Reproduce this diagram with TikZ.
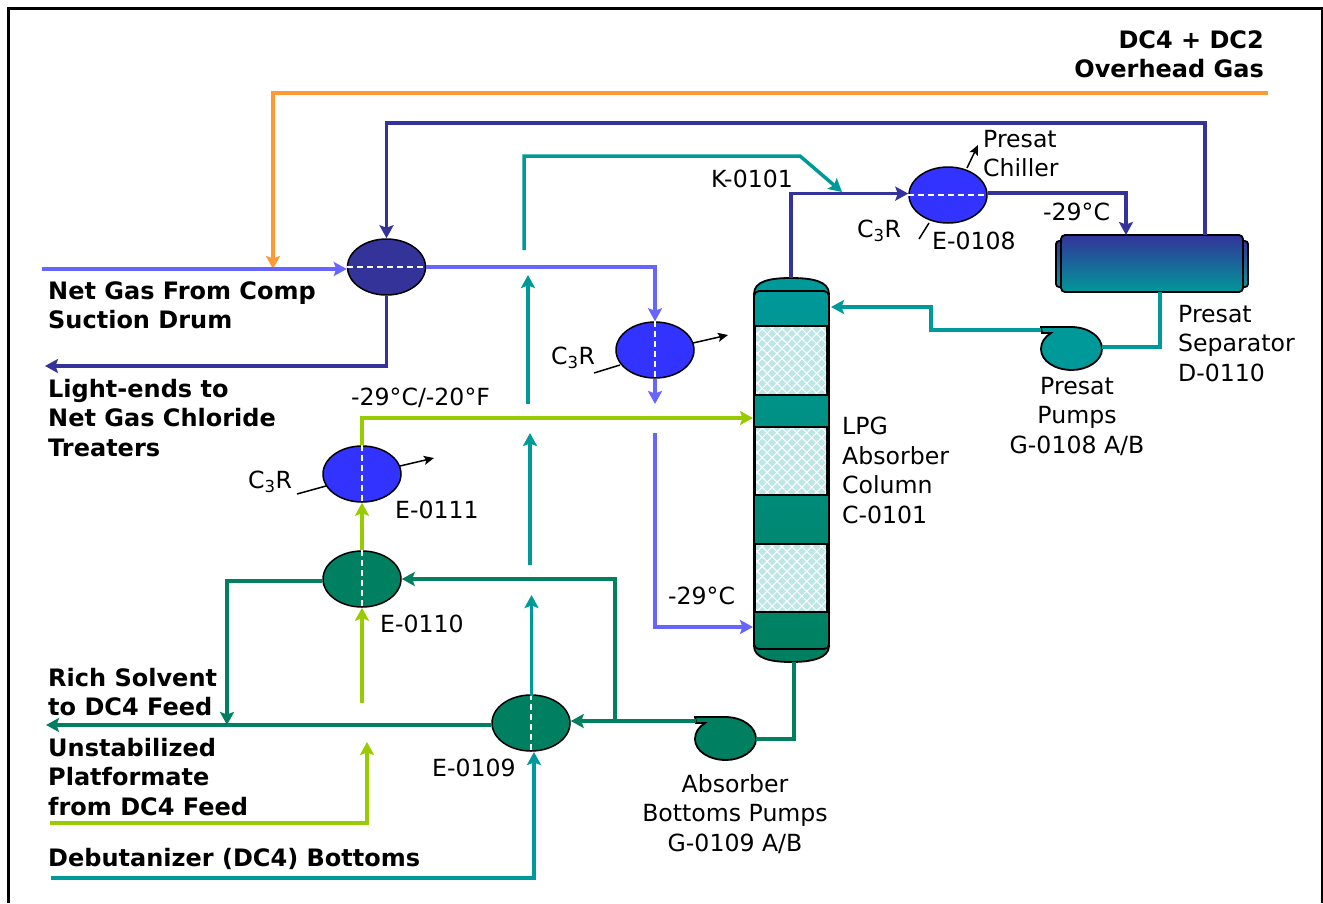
\documentclass[tikz,border=0pt]{standalone}
\usepackage{fontspec}
\setmainfont{DejaVu Sans}
\usetikzlibrary{arrows.meta}
\usetikzlibrary{patterns.meta}
\usetikzlibrary{shapes.geometric}
\definecolor{orangeline}{HTML}{FF9933}
\definecolor{navyline}{HTML}{333399}
\definecolor{lightblue}{HTML}{6666FF}
\definecolor{chillblue}{HTML}{3333FF}
\definecolor{tealline}{HTML}{009999}
\definecolor{limeline}{HTML}{99CC00}
\definecolor{greenline}{HTML}{008060}
\tikzset{
 pipe/.style={line width=3.5pt, line join=miter},
 feed/.style={pipe, -{Stealth[length=13pt,width=14pt,inset=2.5pt]}},
 vessel/.style={ellipse, draw=black, line width=1.5pt, minimum width=78pt, minimum height=56pt, inner sep=0},
 split/.style={white, line width=1.7pt, dash pattern=on 6pt off 4pt},
 refrig/.style={black, line width=1.5pt, -{Stealth[length=10pt,width=9pt,inset=2pt]}},
 stub/.style={black, line width=1.5pt},
 lbl/.style={inner sep=0, align=left, font=\fontsize{23.6}{29.5}\selectfont},
 bold/.style={lbl, font=\fontsize{24}{29.5}\selectfont\bfseries},
 packing/.style={draw=black, line width=1.5pt, fill=tealline!25},
 outline/.style={draw=black, line width=1.8pt},
}
\newcommand{\pumpshape}[3]{
 \filldraw[#3, outline, shift={(#1,#2)}] (0,0) -- (30,0) .. controls (48,0) and (61,10) .. (61,22) .. controls (61,34) and (46,43) .. (31,43) .. controls (14,43) and (0,34) .. (0,22) .. controls (0,15) and (4,10) .. (10,6) -- (1,6) -- cycle;
}
\begin{document}
\begin{tikzpicture}[x=1pt,y=-1pt]
\useasboundingbox (0,0) rectangle (1323,903);
\draw[black, line width=2.6pt] (8.7,903) -- (8.7,8.7) -- (1322,8.7) -- (1322,903);

% exchangers
\node[vessel, fill=navyline] (hxnet) at (386.5,267) {};
\node[vessel, fill=chillblue] (hxpresat) at (948,195) {};
\node[vessel, fill=chillblue] (hxmid) at (655,350) {};
\node[vessel, fill=chillblue] (hxeleven) at (362,474) {};
\node[vessel, fill=greenline] (hxten) at (362,579) {};
\node[vessel, fill=greenline] (hxnine) at (531,723) {};
\draw[split] (hxnet.west) -- (hxnet.east);
\draw[split] (hxpresat.west) -- (hxpresat.east);
\foreach \hx in {hxmid,hxeleven,hxten,hxnine} {
 \draw[split] (\hx.north) -- (\hx.south);
}

% column
\coordinate (coltop) at (791,278);
\coordinate (colbot) at (794,662);
\filldraw[tealline, outline] (754,294) .. controls (754,281) and (770,278) .. (791,278) .. controls (812,278) and (829,281) .. (829,294) -- cycle;
\filldraw[greenline, outline] (754,646) .. controls (754,658) and (770,662) .. (791,662) .. controls (812,662) and (829,658) .. (829,646) -- cycle;
\shade[top color=tealline, bottom color=greenline, outline, rounded corners=5pt] (754,291) rectangle (829,649);
\foreach \ya/\yb in {326/395,427/495,544/612} {
 \draw[packing] (755,\ya) rectangle (827,\yb);
 \fill[pattern={Hatch[distance=7pt, angle=45, line width=1pt]}, pattern color=white] (756,\ya+1.5) rectangle (826,\yb-1.5);
}

% separator
\shade[top color=navyline, bottom color=tealline, outline, rounded corners=3pt] (1056,241) rectangle (1070,287);
\shade[top color=navyline, bottom color=tealline, outline, rounded corners=3pt] (1234,241) rectangle (1248,287);
\shade[top color=navyline, bottom color=tealline, outline, rounded corners=4pt] (1061,235) rectangle (1243,292);

% pumps
\pumpshape{695}{717}{greenline}
\pumpshape{1041}{327}{tealline}
\coordinate (pumpbotout) at (756,739);
\coordinate (pumpbotin) at (696,721);
\coordinate (pumptopout) at (1102,347);
\coordinate (pumptopin) at (1041,330);

% streams
\coordinate (dcfourout) at (1268,93);
\coordinate (dcfourin) at (273,269);
\draw[feed, orangeline] (dcfourout) -- (273,93) -- (dcfourin);
\draw[feed, navyline] (1205,235) -- (1205,123) -- (386.5,123) -- (hxnet.north);
\coordinate (netgas) at (42,269);
\draw[feed, lightblue] (netgas) -- (netgas -| hxnet.west);
\draw[feed, lightblue] (hxnet.east) -- (655,267) -- (hxmid.north);
\coordinate (midout) at (655,404);
\draw[feed, lightblue] (hxmid.south) -- (midout);
\coordinate (midin) at (655,433);
\draw[feed, lightblue] (midin) -- (655,627) -- (753,627);
\coordinate (lightends) at (45,366);
\draw[feed, navyline] (hxnet.south) -- (386.5,366) -- (lightends);
\draw[feed, navyline] (coltop) |- (hxpresat.178);
\draw[feed, navyline] (hxpresat.3) -| (1126,235);

\coordinate (kout) at (524,250);
\coordinate (kin) at (842,192);
\draw[feed, tealline] (kout) -- (524,156) -- (800,156) -- (kin);
\draw[feed, tealline] (528,404) -- (528,275);
\draw[feed, tealline] (530,565) -- (530,433);
\draw[feed, tealline] (531.5,696) -- (531.5,595);
\coordinate (dcbot) at (51,878);
\draw[feed, tealline] (dcbot) -- (534,878) -- (534,752);
\draw[pipe, tealline] (1160,292) -- (1160,347) -- (pumptopout);
\draw[feed, tealline] (pumptopin) -- (931,330) -- (931,307) -- (831,307);

\draw[feed, limeline] (hxeleven.north) -- (362,418) -- (753,418);
\draw[feed, limeline] (hxten.north) -- (hxeleven.south);
\coordinate (limeup) at (362,703);
\draw[feed, limeline] (limeup) -- (hxten.south);
\coordinate (limefeed) at (50,823);
\draw[feed, limeline] (limefeed) -- (367,823) -- (367,742);

\draw[feed, greenline] (hxten.183) -| (227,725);
\coordinate (richout) at (46,725);
\draw[feed, greenline] (richout -| hxnine.west) -- (richout);
\draw[feed, greenline] (pumpbotin) -- (pumpbotin -| hxnine.east);
\draw[feed, greenline] (615,721) -- (615,579) -- (hxten.east);
\draw[pipe, greenline] (colbot) -- (794,739) -- (pumpbotout);

% refrigerant
\draw[refrig] (967,168) -- (978,145);
\draw[stub] (929,223) -- (919,239);
\draw[refrig] (693,343) -- (728,335);
\draw[stub] (620,365) -- (594,373);
\draw[refrig] (400,466) -- (434,458);
\draw[stub] (326,486) -- (297,494);

% labels
\node[bold, align=right, anchor=north east] (lbloverhead) at (1264,30) {DC4 + DC2\\Overhead Gas};
\node[bold, anchor=north west] (lblnetgas) at (48,281) {Net Gas From Comp\\Suction Drum};
\node[bold, anchor=north west] (lbllight) at (48,379) {Light-ends to\\Net Gas Chloride\\Treaters};
\node[bold, anchor=north west] (lblrich) at (48,668) {Rich Solvent\\to DC4 Feed};
\node[bold, anchor=north west] (lblunstab) at (48,738) {Unstabilized\\Platformate\\from DC4 Feed};
\node[bold, anchor=north west] (lbldebut) at (48,848) {Debutanizer (DC4) Bottoms};
\node[lbl, anchor=north west] (lblk) at (711,170) {K-0101};
\node[lbl, anchor=north west] (lblchiller) at (983,130) {Presat\\Chiller};
\node[lbl, anchor=north west] (lblcr) at (857,220) {C\textsubscript{3}R};
\node[lbl, anchor=north west] (lblesix) at (932,232) {E-0108};
\node[lbl, anchor=north west] (lbltemp) at (1043,203) {-29°C};
\node[lbl, anchor=north west] (lblsep) at (1178,305) {Presat\\Separator\\D-0110};
\node[lbl, align=center, anchor=north] (lblpresat) at (1077,377) {Presat\\Pumps\\G-0108 A/B};
\node[lbl, anchor=north west] (lblcolumn) at (842,417) {LPG\\Absorber\\Column\\C-0101};
\node[lbl, anchor=north west] (lblmix) at (351,388) {-29°C/-20°F};
\node[lbl, anchor=north west] (lblcrmid) at (551,347) {C\textsubscript{3}R};
\node[lbl, anchor=north west] (lblcrel) at (248,471) {C\textsubscript{3}R};
\node[lbl, anchor=north west] (lbleel) at (395,501) {E-0111};
\node[lbl, anchor=north west] (lbleten) at (380,615) {E-0110};
\node[lbl, anchor=north west] (lbltempb) at (668,587) {-29°C};
\node[lbl, anchor=north west] (lblenine) at (432,759) {E-0109};
\node[lbl, align=center, anchor=north] (lblbottoms) at (735,774) {Absorber\\Bottoms Pumps\\G-0109 A/B};
\end{tikzpicture}
\end{document}
